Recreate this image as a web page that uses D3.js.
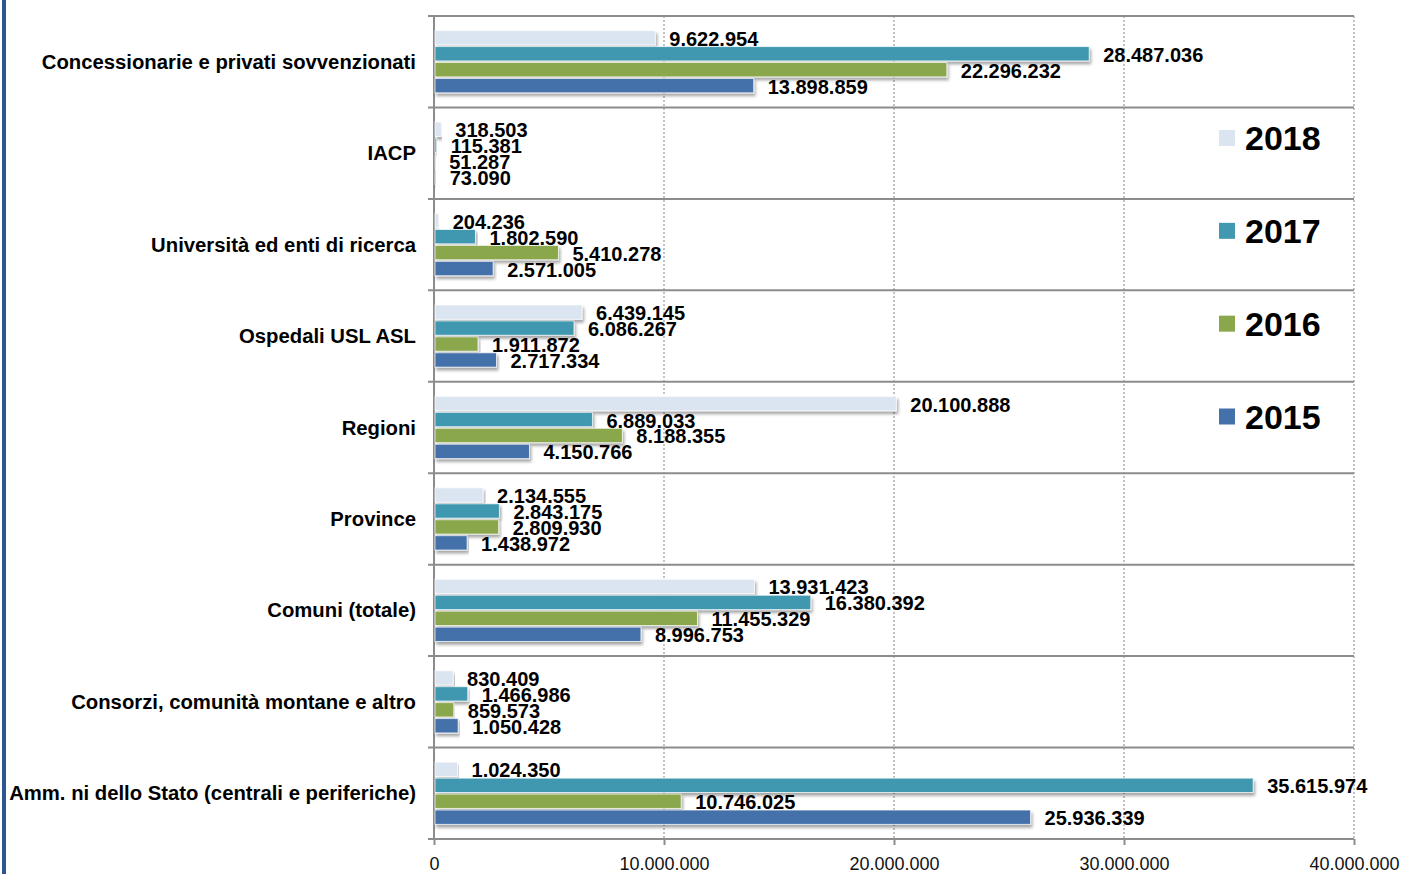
<!DOCTYPE html>
<html>
<head>
<meta charset="utf-8">
<script src="https://cdn.jsdelivr.net/npm/d3@7"></script>
<style>
  html, body { margin: 0; padding: 0; background: #fff; }
  svg { display: block; }
</style>
</head>
<body>
<svg id="chart" width="1405" height="874"></svg>
<script>
const categories = [
  "Concessionarie e privati sovvenzionati",
  "IACP",
  "Università ed enti di ricerca",
  "Ospedali USL ASL",
  "Regioni",
  "Province",
  "Comuni (totale)",
  "Consorzi, comunità montane e altro",
  "Amm. ni dello Stato (centrali e periferiche)"
];
const years = ["2018", "2017", "2016", "2015"];
const values2018 = [9622954, 318503, 204236, 6439145, 20100888, 2134555, 13931423, 830409, 1024350];
const values2017 = [28487036, 115381, 1802590, 6086267, 6889033, 2843175, 16380392, 1466986, 35615974];
const values2016 = [22296232, 51287, 5410278, 1911872, 8188355, 2809930, 11455329, 859573, 10746025];
const values2015 = [13898859, 73090, 2571005, 2717334, 4150766, 1438972, 8996753, 1050428, 25936339];
const xTicks = [0, 10000000, 20000000, 30000000, 40000000];
const colors = { "2018": "#dbe5f1", "2017": "#4198b0", "2016": "#8ba74c", "2015": "#4571aa" };

const seriesValues = { "2018": values2018, "2017": values2017, "2016": values2016, "2015": values2015 };

const itLocale = d3.formatLocale({ decimal: ",", thousands: ".", grouping: [3], currency: ["€", ""] });
const fmt = itLocale.format(",d");

const svg = d3.select("#chart");
const plotLeft = 434, plotRight = 1354, plotTop = 16, plotBottom = 839;

const x = d3.scaleLinear().domain([0, 40000000]).range([plotLeft, plotRight]);
const y = d3.scaleBand().domain(categories).range([plotTop, plotBottom]).paddingInner(0.32).paddingOuter(0.16);
const yInner = d3.scaleBand().domain(years).range([0, y.bandwidth()]).paddingInner(0.1);
const step = y.step();
const rowTop = c => y(c) - step * 0.16;

// defs: shadow
const defs = svg.append("defs");
const f = defs.append("filter").attr("id", "shadow").attr("x", "-5%").attr("y", "-40%").attr("width", "110%").attr("height", "200%");
f.append("feDropShadow").attr("dx", 1.5).attr("dy", 3).attr("stdDeviation", 1.6)
  .attr("flood-color", "#000").attr("flood-opacity", 0.35);

// left blue stripe
svg.append("rect").attr("x", 2).attr("y", 0).attr("width", 4).attr("height", 874).attr("fill", "#2c5592");

// vertical dotted gridlines
svg.append("g").selectAll("line").data(xTicks.slice(1)).join("line")
  .attr("x1", d => x(d)).attr("x2", d => x(d))
  .attr("y1", plotTop).attr("y2", plotBottom)
  .attr("stroke", "#9a9a9a").attr("stroke-width", 1.2).attr("stroke-dasharray", "2,2");

// row separators
const boundaries = categories.map(c => rowTop(c)).concat([plotBottom]);
svg.append("g").selectAll("line").data(boundaries).join("line")
  .attr("x1", plotLeft - 6).attr("x2", plotRight)
  .attr("y1", d => d).attr("y2", d => d)
  .attr("stroke", "#8c8c8c").attr("stroke-width", 2);

// left axis line
svg.append("line").attr("x1", plotLeft).attr("x2", plotLeft).attr("y1", plotTop).attr("y2", plotBottom)
  .attr("stroke", "#8c8c8c").attr("stroke-width", 2);

// bottom axis
const xAxis = d3.axisBottom(x).tickValues(xTicks).tickSize(6).tickPadding(12)
  .tickFormat(d => d === 0 ? "0" : fmt(d));
const gx = svg.append("g").attr("transform", `translate(0,${plotBottom})`).call(xAxis);
gx.select(".domain").remove();
gx.selectAll(".tick line").attr("stroke", "#8c8c8c").attr("stroke-width", 2);
gx.selectAll(".tick text").attr("font-family", "'Liberation Sans Narrow', 'Liberation Sans', Arial, sans-serif")
  .attr("font-size", 18).attr("fill", "#111");

// bars
const groups = svg.append("g").selectAll("g").data(categories).join("g")
  .attr("transform", c => `translate(0,${y(c)})`);

years.forEach(yr => {
  groups.append("rect")
    .attr("x", plotLeft + 1)
    .attr("y", yInner(yr))
    .attr("width", (c, i) => Math.max(0.8, x(seriesValues[yr][i]) - plotLeft - 1))
    .attr("height", yInner.bandwidth())
    .attr("fill", colors[yr])
    .attr("stroke", "#ffffff").attr("stroke-opacity", 0.7).attr("stroke-width", 1)
    .attr("filter", "url(#shadow)");
});

years.forEach(yr => {
  groups.append("text")
    .attr("x", (c, i) => x(seriesValues[yr][i]) + 14)
    .attr("y", yInner(yr) + yInner.bandwidth() / 2 + 1)
    .attr("dominant-baseline", "central")
    .attr("font-family", "'Liberation Sans', Arial, sans-serif")
    .attr("font-weight", "bold").attr("font-size", 20).attr("fill", "#000")
    .text((c, i) => fmt(seriesValues[yr][i]));
});

// category labels
svg.append("g").selectAll("text").data(categories).join("text")
  .attr("x", 416).attr("y", c => y(c) + y.bandwidth() / 2)
  .attr("text-anchor", "end").attr("dominant-baseline", "central")
  .attr("font-family", "'Liberation Sans', Arial, sans-serif")
  .attr("font-weight", "bold").attr("font-size", 20.3).attr("fill", "#000")
  .text(c => c);

// legend
const legendY = d3.scalePoint().domain(years).range([138, 416.5]);
const lg = svg.append("g").selectAll("g").data(years).join("g")
  .attr("transform", d => `translate(1219,${legendY(d)})`);
lg.append("rect").attr("x", 0).attr("y", -8).attr("width", 16).attr("height", 16)
  .attr("fill", d => colors[d]);
lg.append("text").attr("x", 26).attr("y", 0).attr("dominant-baseline", "central")
  .attr("font-family", "'Liberation Sans', Arial, sans-serif")
  .attr("font-weight", "bold").attr("font-size", 34).attr("fill", "#000")
  .text(d => d);
</script>
</body>
</html>
